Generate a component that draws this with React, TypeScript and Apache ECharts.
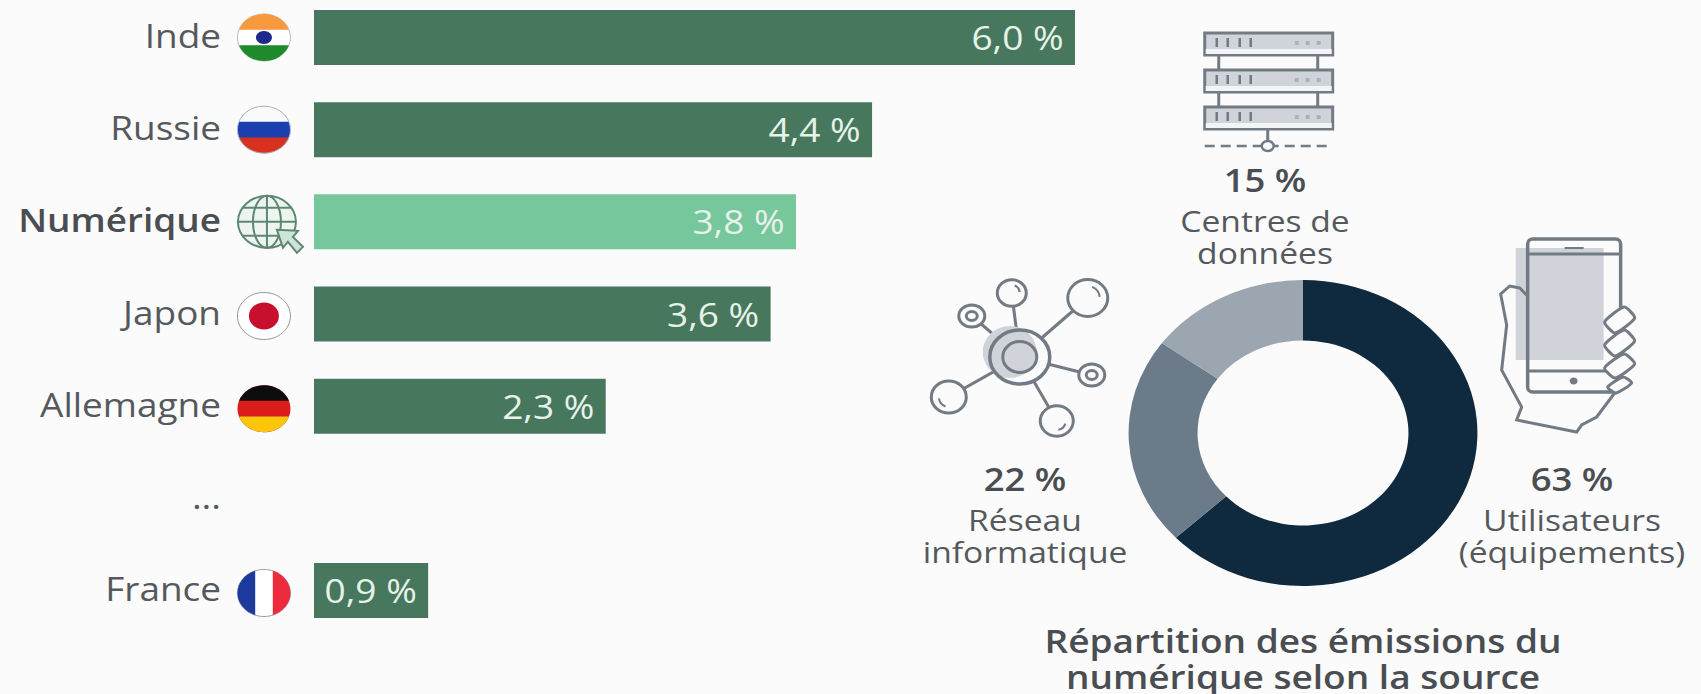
import React, { useEffect, useRef } from "react";
import * as echarts from "echarts";

const categories = ["Inde", "Russie", "Numérique", "Japon", "Allemagne", "...", "France"];
const barValues: (number | null)[] = [6.0, 4.4, 3.8, 3.6, 2.3, null, 0.9];
const highlightCategory = "Numérique";
const donutNames = ["Utilisateurs (équipements)", "Réseau informatique", "Centres de données"];
const donutValues = [63, 22, 15];
const donutColors = ["#0f2a3f", "#6c7b89", "#9ca6b0"];

const W = 1701;
const H = 694;
const S = 1.14; // the reference is stretched horizontally
const FONT = "'Open Sans', sans-serif";
const TEXT = "#55595d";
const LINE = "#727b84";
const FILL = "#d0d4da";
const GREEN = "#47785d";
const LIGHT = "#76c79b";
const BG = "#fbfbfb";

echarts.graphic.registerShape("capT", echarts.graphic.extendPath("M-94.3,-33.3A100,100 0 0 1 94.3,-33.3Z", {}));
echarts.graphic.registerShape("capB", echarts.graphic.extendPath("M94.3,33.3A100,100 0 0 1 -94.3,33.3Z", {}));
echarts.graphic.registerShape("capL", echarts.graphic.extendPath("M-33.3,94.3A100,100 0 0 1 -33.3,-94.3Z", {}));
echarts.graphic.registerShape("capR", echarts.graphic.extendPath("M33.3,-94.3A100,100 0 0 1 33.3,94.3Z", {}));

const ell = (cx: number, cy: number, rx: number, ry: number, style: any) => ({ type: "ellipse", shape: { cx, cy, rx, ry }, style });
const stroke = (fill = "none", lineWidth = 3) => ({ fill, stroke: LINE, lineWidth });
const seg = (x1: number, y1: number, x2: number, y2: number, st: any = stroke()) => ({ type: "line", shape: { x1, y1, x2, y2 }, style: st });
const rect = (x: number, y: number, width: number, height: number, style: any, r = 0) => ({ type: "rect", shape: { x, y, width, height, r }, style });

function cap(kind: string, cx: number, cy: number, color: string) {
  return { type: kind, x: cx, y: cy, scaleX: 26.5 / 100, scaleY: 23.5 / 100, style: { fill: color } };
}

function flag(name: string, cy: number): any[] {
  const cx = 264;
  const base = (fill: string, st = "none") => ell(cx, cy, 26.5, 23.5, { fill, stroke: st, lineWidth: 1 });
  switch (name) {
    case "Inde":
      return [base("#ffffff", "#b9b9b9"), cap("capT", cx, cy, "#f79a3e"), cap("capB", cx, cy, "#1f8a2b"), ell(cx, cy, 8, 6.5, { fill: "#1e2a8a" })];
    case "Russie":
      return [base("#1c3fb0"), cap("capT", cx, cy, "#fafafa"), cap("capB", cx, cy, "#d8321e"), ell(cx, cy, 26.5, 23.5, { fill: "none", stroke: "#b5b5c5", lineWidth: 1 })];
    case "Japon":
      return [base("#ffffff", "#8a9a92"), ell(cx, cy, 15, 13.5, { fill: "#c8102e" })];
    case "Allemagne":
      return [base("#dd1c1c"), cap("capT", cx, cy, "#0c0c0c"), cap("capB", cx, cy, "#fcc60a")];
    case "France":
      return [base("#ffffff", "#9a9ab0"), cap("capL", cx, cy, "#1c3a9c"), cap("capR", cx, cy, "#ee2b3c")];
    default:
      return [];
  }
}

function globe(cy: number): any[] {
  const cx = 267;
  const c = "#5c8872";
  const st = { fill: "none", stroke: c, lineWidth: 2 };
  return [
    ell(cx, cy, 29, 26, { fill: "#eef5f0", stroke: c, lineWidth: 2 }),
    ell(cx, cy, 14, 26, st),
    seg(cx, cy - 26, cx, cy + 26, st),
    seg(cx - 29, cy, cx + 29, cy, st),
    { type: "polyline", shape: { points: [[cx - 24, cy - 14], [cx + 24, cy - 14]] }, style: st },
    { type: "polyline", shape: { points: [[cx - 24, cy + 14], [cx + 24, cy + 14]] }, style: st },
    {
      type: "polygon",
      shape: { points: [[277, cy + 8], [298, cy + 9], [293, cy + 15], [303, cy + 25], [297, cy + 31], [288, cy + 20], [283, cy + 26]] },
      style: { fill: "#cfe3d7", stroke: c, lineWidth: 2 },
    },
  ];
}

function networkIcon(): any[] {
  const cx = 1020;
  const cy = 357;
  const small = (x: number, y: number) => [ell(x, y, 13, 11, stroke(BG)), ell(x, y, 5.5, 4.5, stroke())];
  const big = (x: number, y: number, r: number) => [ell(x, y, r, r * 0.92, stroke(BG))];
  const glint = (x: number, y: number, r: number, a: number) => ({
    type: "arc",
    shape: { cx: x, cy: y, r, startAngle: a, endAngle: a + 1.1, clockwise: true },
    style: { fill: "none", stroke: LINE, lineWidth: 2 },
  });
  return [
    seg(cx, cy, 972, 316),
    seg(cx, cy, 1012, 293),
    seg(cx, cy, 1088, 298),
    seg(cx, cy, 1092, 375),
    seg(cx, cy, 1057, 421),
    seg(cx, cy, 949, 397),
    ell(cx, cy, 30, 27, { fill: BG }),
    ell(1010, 352, 27, 26, { fill: FILL }),
    ell(cx, cy, 30, 27, { fill: "none", stroke: LINE, lineWidth: 3.5 }),
    ell(cx, cy, 17, 15.5, { fill: FILL, stroke: LINE, lineWidth: 3 }),
    ...small(972, 316),
    ...big(1012, 293, 14.5),
    ...big(1088, 298, 20),
    ...small(1092, 375),
    ...big(1057, 421, 16.5),
    ...big(949, 397, 17.5),
    glint(1012, 293, 8, -1.2),
    glint(1088, 298, 12, -1.2),
    glint(1057, 421, 9, 0.3),
    glint(949, 397, 10, 1.9),
  ];
}

function phoneIcon(): any[] {
  const finger = (x: number, y: number, w: number, h: number) => ({
    type: "polygon",
    shape: { points: [[x - w, y + 2], [x + w * 0.3, y - h], [x + w, y - 2], [x - w * 0.3, y + h]], smooth: 0.2 },
    style: stroke(BG, 3),
  });
  return [
    rect(1516, 248, 88, 112, { fill: FILL }),
    rect(1528, 239, 93, 153, { fill: "none", stroke: LINE, lineWidth: 3.5 }, 5),
    seg(1528, 254, 1621, 254),
    seg(1528, 371, 1621, 371),
    seg(1565, 248, 1584, 248, stroke("none", 2)),
    ell(1574, 381, 4, 3.5, { fill: LINE }),
    {
      type: "polyline",
      shape: {
        points: [[1528, 296], [1520, 288], [1510, 286], [1501, 294], [1507, 325], [1502, 370], [1522, 407], [1517, 420], [1577, 432], [1582, 425], [1597, 417], [1615, 393]],
      },
      style: { fill: "none", stroke: LINE, lineWidth: 3 },
    },
    finger(1620, 320, 15, 13),
    finger(1620, 343, 15, 13),
    finger(1620, 366, 15, 12),
    finger(1620, 385, 12, 8),
  ];
}

function serverIcon(): any[] {
  const ys = [33, 70, 107];
  const out: any[] = [
    seg(1219, 54, 1219, 70),
    seg(1318, 54, 1318, 70),
    seg(1219, 92, 1219, 107),
    seg(1318, 92, 1318, 107),
    { type: "polyline", shape: { points: [[1205, 146], [1333, 146]] }, style: { fill: "none", stroke: LINE, lineWidth: 2.5, lineDash: [10, 6] } },
    seg(1268, 130, 1268, 141),
    ell(1268, 146, 6, 5, stroke(BG, 2.5)),
  ];
  ys.forEach((y) => {
    out.push(rect(1205, y, 128, 22, { fill: FILL, stroke: LINE, lineWidth: 3 }));
    out.push(rect(1206, y + 16, 126, 5, { fill: "#f2f5f8" }));
    [1217, 1228, 1240, 1251].forEach((x) => out.push(seg(x, y + 5, x, y + 14, stroke("none", 2.5))));
    [1297, 1308, 1319].forEach((x) => out.push(rect(x - 2, y + 8, 4, 4, { fill: "#aab1b8" })));
  });
  return out;
}

type Label = { x: number; y: number; text: string; bold?: boolean; size?: number };
const donutLabels: Label[] = [
  { x: 1265, y: 179, text: "15 %", bold: true, size: 32 },
  { x: 1265, y: 220, text: "Centres de", size: 29.5 },
  { x: 1265, y: 252, text: "données", size: 29.5 },
  { x: 1025, y: 478, text: "22 %", bold: true, size: 32 },
  { x: 1025, y: 519, text: "Réseau", size: 29.5 },
  { x: 1025, y: 551, text: "informatique", size: 29.5 },
  { x: 1572, y: 478, text: "63 %", bold: true, size: 32 },
  { x: 1572, y: 519, text: "Utilisateurs", size: 29.5 },
  { x: 1572, y: 551, text: "(équipements)", size: 29.5 },
  { x: 1303, y: 640, text: "Répartition des émissions du", bold: true, size: 32.5 },
  { x: 1303, y: 676, text: "numérique selon la source", bold: true, size: 32.5 },
];

export default function App() {
  const ref = useRef<HTMLDivElement>(null);
  useEffect(() => {
    document.body.style.margin = "0";
    document.body.style.background = BG;
    document.documentElement.style.overflow = "hidden";
    const chart = echarts.init(ref.current!, undefined, { renderer: "svg" });
    chart.setOption({
      animation: false,
      backgroundColor: BG,
      grid: { left: 314 / S, top: 37.5, width: 761 / S, height: 553 },
      xAxis: { type: "value", min: 0, max: 6, show: false },
      yAxis: {
        type: "category",
        inverse: true,
        boundaryGap: false,
        data: categories,
        axisLine: { show: false },
        axisTick: { show: false },
        splitLine: { show: false },
        axisLabel: {
          margin: 93 / S,
          interval: 0,
          formatter: (v: string) => (v === highlightCategory ? `{b|${v}}` : `{n|${v}}`),
          rich: {
            n: { fontFamily: FONT, fontSize: 32.4, color: TEXT, padding: [0, 0, 4, 0] },
            b: { fontFamily: FONT, fontSize: 32.4, fontWeight: 600, color: "#4a4d51", padding: [0, 0, 4, 0] },
          },
        },
      },
      series: [
        {
          type: "bar",
          barWidth: 55,
          clip: false,
          data: barValues.map((v, i) => ({
            value: v,
            itemStyle: { color: categories[i] === highlightCategory ? LIGHT : GREEN },
          })),
          label: {
            show: true,
            position: "insideRight",
            distance: 10,
            fontFamily: FONT,
            fontSize: 32.5,
            color: "#e6f2ea",
            formatter: (p: any) => (p.value == null ? "" : `${p.value.toFixed(1).replace(".", ",")} %`),
          },
          silent: true,
        },
        {
          type: "pie",
          center: [1303 / S, 433],
          radius: [92.5, 153],
          startAngle: 90,
          clockwise: true,
          label: { show: false },
          labelLine: { show: false },
          silent: true,
          data: donutValues.map((value, i) => ({ value, name: donutNames[i], itemStyle: { color: donutColors[i] } })),
        },
      ],
    });
    const flagOffsets = [0, 0, 0, 2, 2.5, 0, 2.5];
    const marks: any[] = [];
    categories.forEach((c, i) => {
      const y = (chart.convertToPixel({ yAxisIndex: 0 }, c) as number) + flagOffsets[i];
      if (c === highlightCategory) marks.push(...globe(y));
      else marks.push(...flag(c, y));
    });
    chart.setOption({
      graphic: [
        { type: "group", x: 0, y: 0, scaleX: 1 / S, silent: true, children: [...marks, ...networkIcon(), ...phoneIcon(), ...serverIcon()] },
        ...donutLabels.map((l) => ({
          type: "text",
          x: l.x / S,
          y: l.y,
          silent: true,
          style: {
            text: l.text,
            fontFamily: FONT,
            fontSize: l.size ?? 29,
            fontWeight: l.bold ? 600 : 400,
            fill: l.bold ? "#4a4d51" : TEXT,
            align: "center",
            verticalAlign: "middle",
          },
        })),
      ],
    });
    return () => chart.dispose();
  }, []);
  return (
    <div style={{ width: W, height: H, overflow: "hidden", background: BG }}>
      <div ref={ref} style={{ width: W / S, height: H, transform: `scaleX(${S})`, transformOrigin: "0 0" }} />
    </div>
  );
}
